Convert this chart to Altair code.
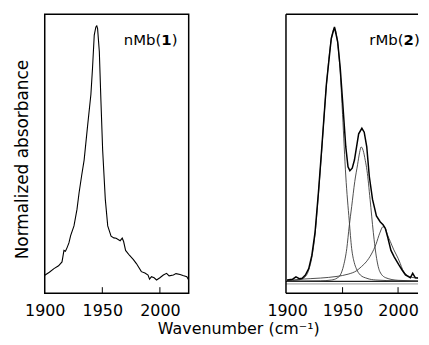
import altair as alt
import pandas as pd

FONT = "DejaVu Sans"

# nMb(1) spectrum
n_wn = [1900, 1904, 1908, 1912, 1915, 1916.7, 1918, 1919.6, 1921, 1922.5,
        1925.4, 1928, 1929.8, 1932, 1934.2, 1937.1, 1940.1, 1941.5, 1943, 1944.4,
        1945.2, 1945.9, 1947.4, 1948.8, 1950.3, 1952.6, 1954.7, 1957.6, 1960, 1962,
        1965.5, 1967.3, 1968.5, 1970.2, 1973.7, 1977, 1979.6, 1983.9, 1987, 1989.7,
        1991, 1992.7, 1995, 1997.1, 2000, 2003, 2005.8, 2008, 2011.7, 2014,
        2017.5, 2020, 2023.4, 2025]
n_abs = [0.064, 0.075, 0.088, 0.098, 0.112, 0.153, 0.150, 0.165, 0.18, 0.206,
         0.241, 0.30, 0.359, 0.42, 0.477, 0.595, 0.713, 0.807, 0.925, 0.954,
         0.958, 0.948, 0.866, 0.689, 0.512, 0.336, 0.241, 0.204, 0.198, 0.197,
         0.188, 0.197, 0.185, 0.153, 0.135, 0.12, 0.106, 0.077, 0.072, 0.065,
         0.050, 0.059, 0.055, 0.047, 0.055, 0.065, 0.071, 0.062, 0.065, 0.070,
         0.067, 0.063, 0.059, 0.047]

# rMb(2) measured spectrum
r_wn = [1900, 1905, 1908, 1911, 1913.6, 1916.5, 1919.5, 1922.3, 1925.2, 1928.2,
        1931.1, 1935.4, 1939.8, 1942.7, 1945.6, 1947.9, 1950, 1952.9, 1954.9, 1956.6,
        1958.7, 1960.7, 1964.5, 1967.4, 1969.5, 1971.8, 1974.1, 1977, 1980.5, 1984,
        1986.5, 1988.5, 1990.7, 1993.6, 1996.5, 2000.9, 2003.8, 2006.7, 2011.1, 2013.2,
        2015.6, 2021.4, 2025]
r_abs = [0.047, 0.050, 0.058, 0.052, 0.053, 0.065, 0.088, 0.135, 0.218, 0.359,
         0.512, 0.748, 0.913, 0.954, 0.901, 0.807, 0.689, 0.524, 0.453, 0.439,
         0.448, 0.477, 0.571, 0.591, 0.577, 0.524, 0.418, 0.336, 0.277, 0.255,
         0.245, 0.232, 0.200, 0.153, 0.130, 0.100, 0.082, 0.065, 0.055, 0.071,
         0.055, 0.053, 0.050]

# fitted components
c1_wn = [1900, 1910, 1915, 1919.5, 1922.3, 1925.2, 1928.2, 1931.1, 1935.4, 1939.8,
         1942.7, 1945.6, 1947.9, 1950, 1952.9, 1956, 1958.2, 1960.5, 1962.5, 1966,
         1972, 1980, 2000, 2025]
c1_abs = [0.044, 0.047, 0.054, 0.083, 0.128, 0.212, 0.352, 0.505, 0.742, 0.908,
          0.950, 0.895, 0.79, 0.64, 0.42, 0.26, 0.16, 0.11, 0.087, 0.065,
          0.053, 0.047, 0.044, 0.043]
c2_wn = [1900, 1930, 1940, 1945, 1948, 1951, 1953.8, 1956, 1958.2, 1961,
         1963.5, 1965.4, 1966.7, 1968.5, 1970.5, 1972, 1974.8, 1977.7, 1980.7, 1983.6,
         1989, 2000, 2025]
c2_abs = [0.043, 0.044, 0.047, 0.054, 0.065, 0.10, 0.16, 0.24, 0.31, 0.40,
          0.46, 0.505, 0.524, 0.512, 0.475, 0.44, 0.336, 0.218, 0.124, 0.077,
          0.055, 0.046, 0.043]
c3_wn = [1900, 1912.8, 1930, 1945, 1955, 1962.5, 1967, 1971.3, 1976, 1980.1,
         1983.5, 1986.5, 1988.5, 1990.4, 1993, 1996.2, 2000, 2002, 2004, 2006.4,
         2010, 2015, 2025]
c3_abs = [0.045, 0.050, 0.054, 0.060, 0.068, 0.080, 0.095, 0.112, 0.140, 0.175,
          0.215, 0.238, 0.233, 0.210, 0.185, 0.155, 0.125, 0.106, 0.085, 0.071,
          0.060, 0.055, 0.052]

baseline_dark = [0.042]
baseline_gray = [0.033]
tick_vals = [1950, 2000]
label_vals = [1900, 1950, 2000]

H = 281
WL = 145
WR = 133

xscale_l = alt.Scale(domain=[1900, 2025], nice=False, zero=False)
xscale_r = alt.Scale(domain=[1899, 2018], nice=False, zero=False)
yscale = alt.Scale(domain=[0, 1], nice=False, zero=False)


def xaxis(**kw):
    return alt.Axis(values=label_vals, format="d", ticks=False, domain=False,
                    grid=False, labelFlush=False, labelOverlap=False,
                    labelFont=FONT, labelFontSize=16, labelColor="black",
                    labelPadding=10, **kw)


def spectrum(wn, ab, width, xscale, color="black", interp="linear",
             axis=None, yaxis=None):
    df = pd.DataFrame({"wn": wn, "a": ab})
    if axis is not None:
        xe = alt.X("wn:Q", scale=xscale, axis=axis)
    else:
        xe = alt.X("wn:Q", scale=xscale)
    if yaxis is not None:
        ye = alt.Y("a:Q", scale=yscale, axis=yaxis)
    else:
        ye = alt.Y("a:Q", scale=yscale)
    return alt.Chart(df).mark_line(color=color, strokeWidth=width,
                                   interpolate=interp, clip=True).encode(x=xe, y=ye)


def inner_ticks(xscale):
    df = pd.DataFrame({"wn": tick_vals})
    return alt.Chart(df).mark_rule(color="black", strokeWidth=1).encode(
        x=alt.X("wn:Q", scale=xscale), y=alt.value(H - 6), y2=alt.value(H))


def label(parts, xs):
    layers = []
    for (txt, bold, align), xv in zip(parts, xs):
        df = pd.DataFrame({"t": [txt]})
        layers.append(alt.Chart(df).mark_text(
            align=align, baseline="alphabetic", font=FONT, fontSize=15,
            fontWeight="bold" if bold else "normal", color="black").encode(
            x=alt.value(xv), y=alt.value(31), text="t:N"))
    return layers


def frame_line(x1, x2, y1, y2):
    df = pd.DataFrame({"k": [0]})
    return alt.Chart(df).mark_rule(color="black", strokeWidth=1.5).encode(
        x=alt.value(x1), x2=alt.value(x2), y=alt.value(y1), y2=alt.value(y2))


left_yaxis = alt.Axis(labels=False, ticks=False, domain=False, grid=False,
                      title="Normalized absorbance", titleFont=FONT,
                      titleFontSize=17, titleFontWeight="normal",
                      titleColor="black", titlePadding=13, titleY=146)
right_yaxis = alt.Axis(labels=False, ticks=False, domain=False, grid=False,
                       title="")

left = alt.layer(
    spectrum(n_wn, n_abs, 1.1, xscale_l, axis=xaxis(title=""), yaxis=left_yaxis),
    inner_ticks(xscale_l),
    *label([("nMb(", False, "right"), ("1", True, "left"), (")", False, "left")],
           [117.4, 117.4, 127.9]),
).properties(width=WL, height=H)

right_xaxis = xaxis(title="Wavenumber (cm⁻¹)", titleFont=FONT, titleFontSize=16,
                    titleFontWeight="normal", titleColor="black",
                    titleX=-48, titleY=41, titleAlign="center",
                    titleBaseline="alphabetic")

base_dark_df = pd.DataFrame({"v": baseline_dark})
base_gray_df = pd.DataFrame({"v": baseline_gray})

right = alt.layer(
    alt.Chart(base_gray_df).mark_rule(color="#999999", strokeWidth=1).encode(
        y=alt.Y("v:Q", scale=yscale)),
    alt.Chart(base_dark_df).mark_rule(color="#222222", strokeWidth=1.3).encode(
        y=alt.Y("v:Q", scale=yscale)),
    spectrum(c1_wn, c1_abs, 0.9, xscale_r, color="#3a3a3a", interp="monotone"),
    spectrum(c2_wn, c2_abs, 0.9, xscale_r, color="#3a3a3a", interp="monotone"),
    spectrum(c3_wn, c3_abs, 0.9, xscale_r, color="#3a3a3a", interp="monotone"),
    spectrum(r_wn, r_abs, 1.5, xscale_r, axis=right_xaxis, yaxis=right_yaxis),
    inner_ticks(xscale_r),
    frame_line(0, WR, 0, 0),
    frame_line(0, 0, 0, H),
    frame_line(0, WR, H, H),
    *label([("rMb(", False, "right"), ("2", True, "left"), (")", False, "left")],
           [118.4, 118.4, 128.9]),
).properties(width=WR, height=H, view=alt.ViewConfig(stroke="transparent"))

chart = alt.hconcat(left, right, spacing=98, bounds="flush").properties(
    padding={"left": 5, "top": 3, "right": 0, "bottom": 0}
).configure_view(stroke="black", strokeWidth=1.5)

chart.save("out.html", embed_options={"renderer": "svg", "actions": False})
